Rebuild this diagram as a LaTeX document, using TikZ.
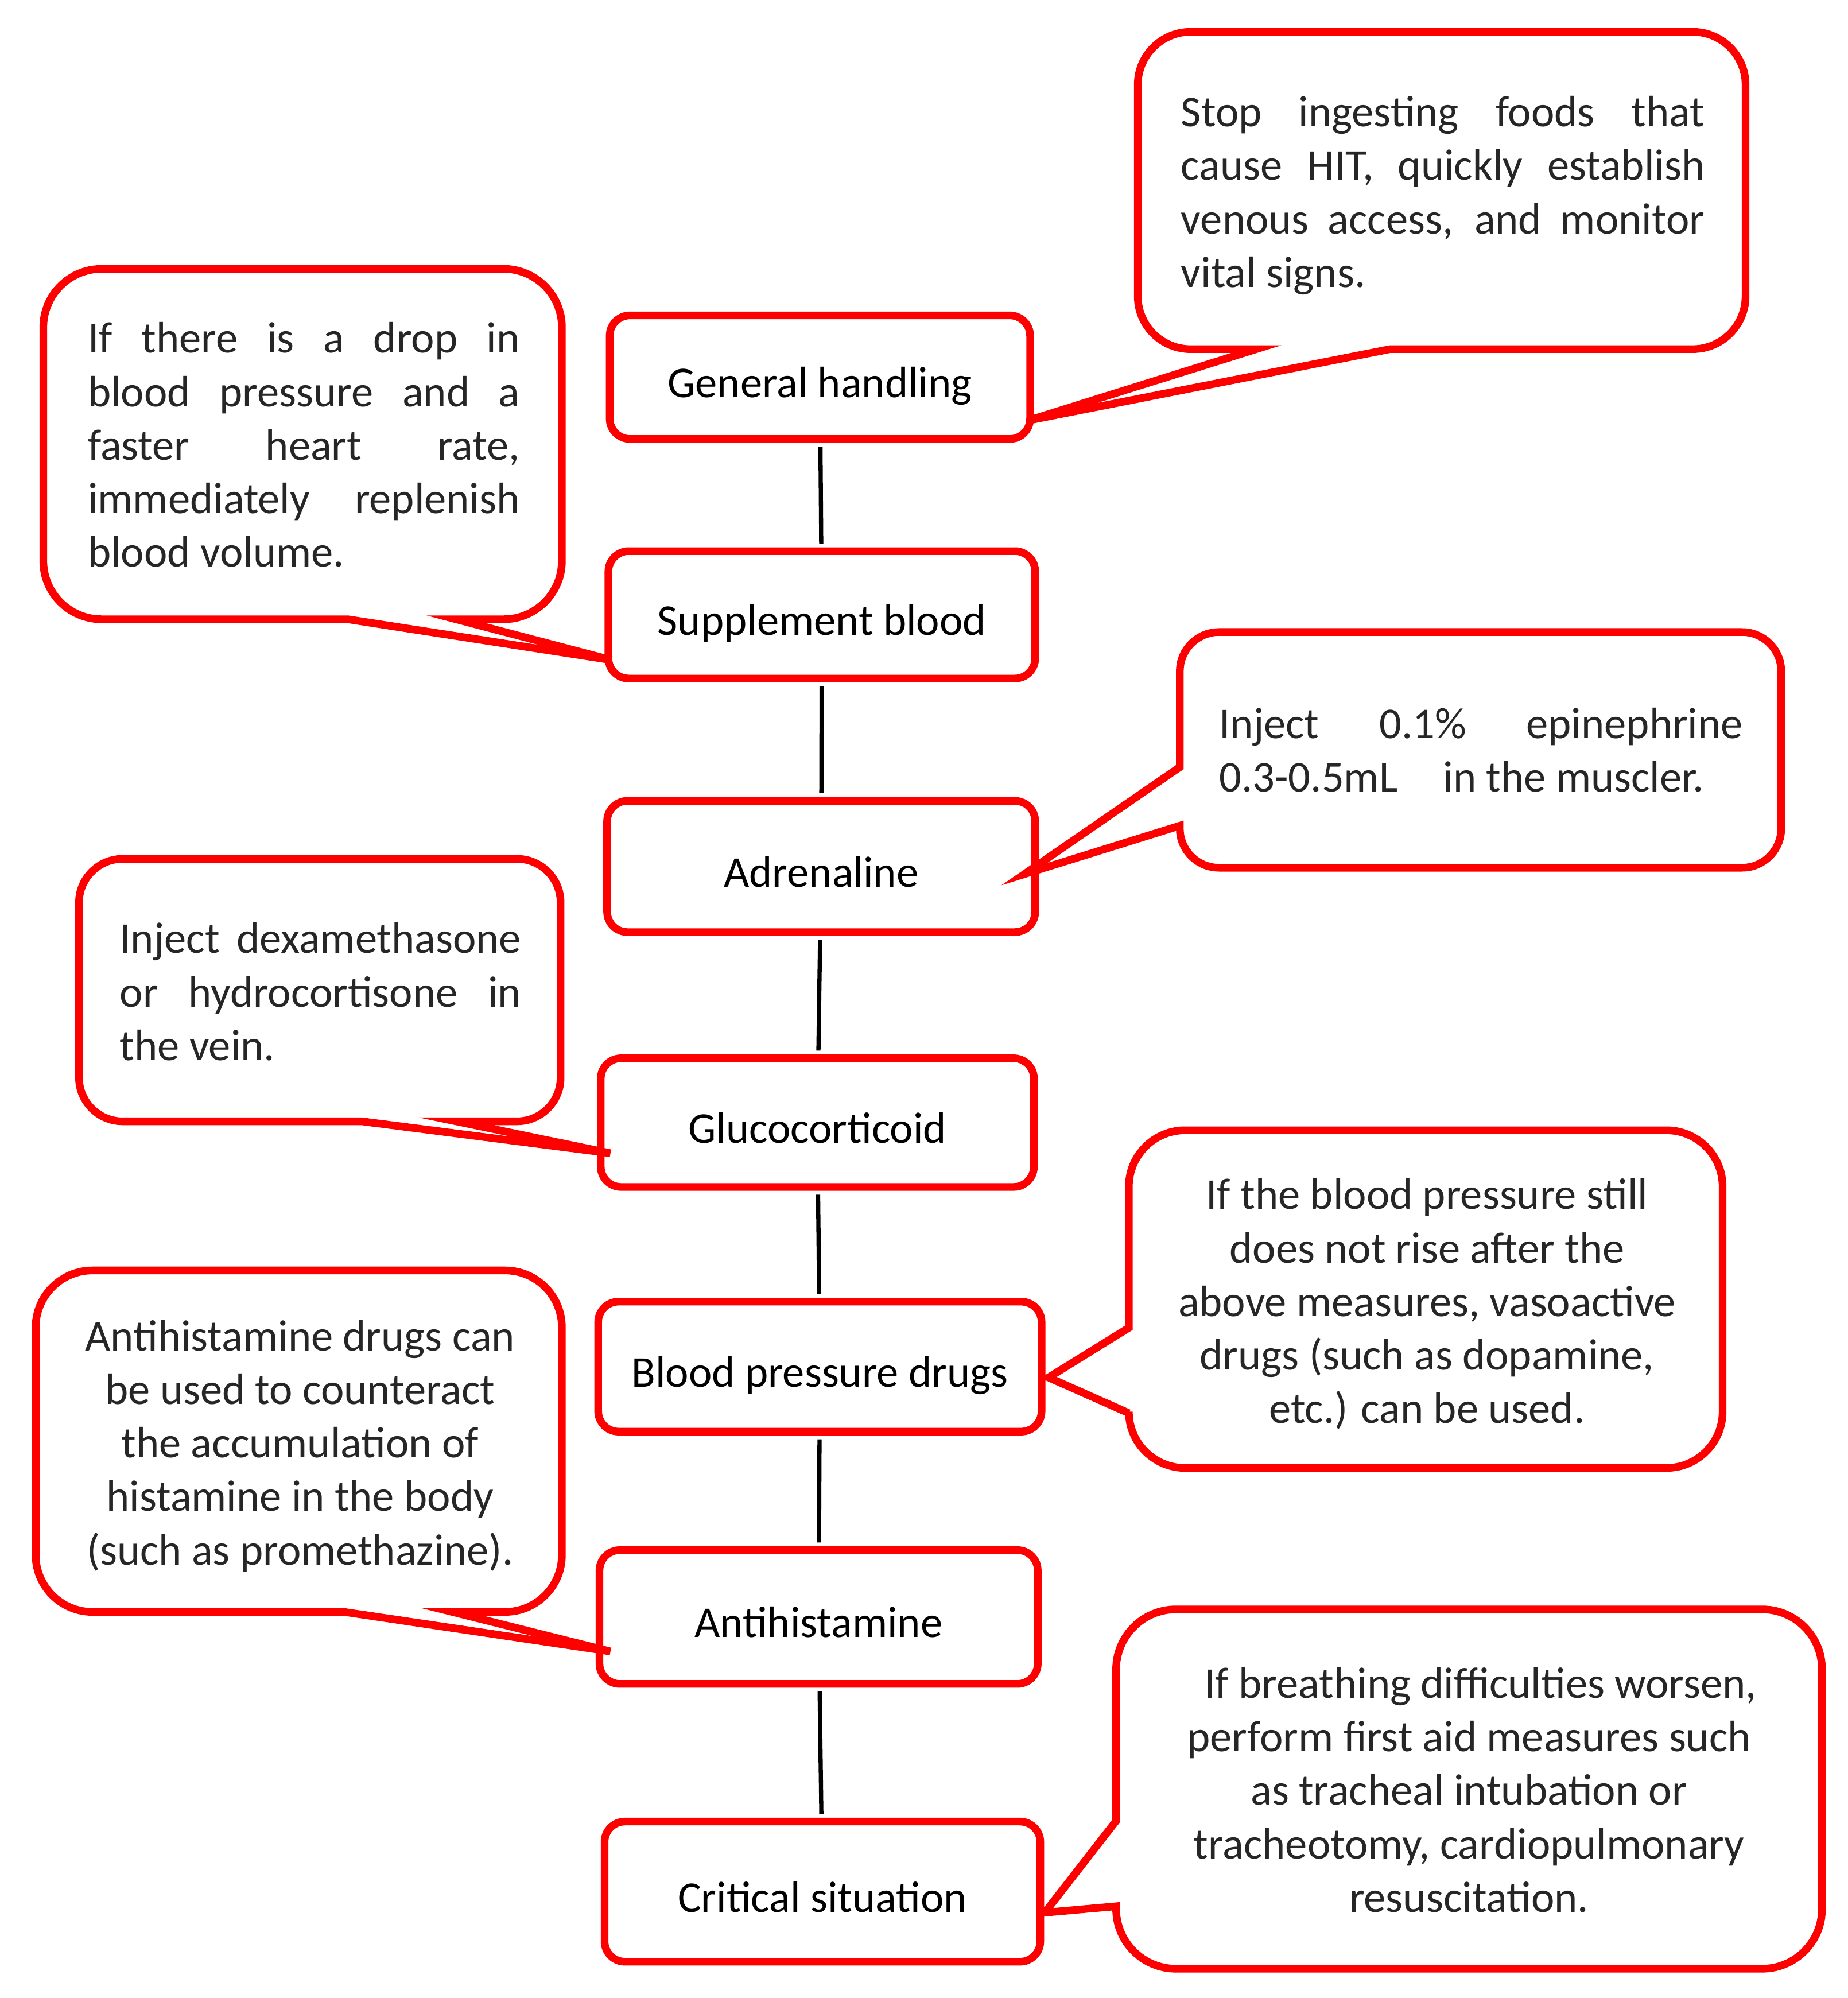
\documentclass[tikz,border=0pt]{standalone}
\usepackage{fontspec}
\setmainfont{Carlito}
\definecolor{txtgray}{RGB}{38,38,38}
\newcommand{\jline}[2]{\makebox[#1pt][s]{\strut #2}}
\newcommand{\lline}[2]{\makebox[#1pt][l]{\strut #2}}
% callout with pointer leaving the bottom edge: L R T B b1 b2 tipx tipy
\newcommand{\cobottom}[8]{%
  \pgfmathsetmacro\crad{min(#2-#1,#4-#3)/6}%
  \draw[callout] ({(#1+#2)/2},#3) [rounded corners=\crad pt] -- (#2,#3) -- (#2,#4)
     [sharp corners] -- (#6,#4) -- (#7,#8) -- (#5,#4)
     [rounded corners=\crad pt] -- (#1,#4) -- (#1,#3) -- cycle;}
% callout with pointer leaving the left edge: L R T B upper lower tipx tipy
\newcommand{\coleft}[8]{%
  \pgfmathsetmacro\crad{min(#2-#1,#4-#3)/6}%
  \draw[callout] ({(#1+#2)/2},#3) [rounded corners=\crad pt] -- (#2,#3) -- (#2,#4) -- (#1,#4)
     [sharp corners] -- (#1,#6) -- (#7,#8) -- (#1,#5)
     [rounded corners=\crad pt] -- (#1,#3) -- cycle;}
\tikzset{
  mainbox/.style={draw=red, line width=6pt, rounded corners=16pt, fill=white,
    font=\fontsize{34.5}{42}\selectfont, text=black, inner sep=0pt,
    text height=32pt, text depth=0pt},
  callout/.style={draw=red, line width=6pt, fill=white},
  ctext/.style={font=\fontsize{34.5}{42}\selectfont, text=txtgray, inner sep=0pt},
  conn/.style={draw=black, line width=3.3pt, shorten <=3pt, shorten >=3pt}
}
\begin{document}
\begin{tikzpicture}[x=1pt,y=-1pt]
\useasboundingbox[fill=white] (0,0) rectangle (1450,1568);

% main chain
\node[mainbox, minimum width=330pt, minimum height=97pt]  (gh)   at (643.5,296)   {General handling};
\node[mainbox, minimum width=335pt, minimum height=100pt] (sb)   at (645,482.5)   {Supplement blood};
\node[mainbox, minimum width=336pt, minimum height=103pt] (adr)  at (644.5,680)   {Adrenaline};
\node[mainbox, minimum width=340pt, minimum height=101pt] (glu)  at (641.5,881)   {Glucocorticoid};
\node[mainbox, minimum width=348pt, minimum height=102pt] (bpd)  at (643.5,1072.5){Blood pressure drugs};
\node[mainbox, minimum width=344pt, minimum height=105pt] (ant)  at (642.5,1269)  {Antihistamine};
\node[mainbox, minimum width=342pt, minimum height=110pt] (crit) at (645.5,1484.5){Critical situation};

\draw[conn] (gh) -- (sb);
\draw[conn] (sb) -- (adr);
\draw[conn] (adr) -- (glu);
\draw[conn] (glu) -- (bpd);
\draw[conn] (bpd) -- (ant);
\draw[conn] (ant) -- (crit);

% callouts
\cobottom{893}{1370}{25}{274}{986}{1091}{807}{330}
\cobottom{34}{441}{211}{486}{273}{358}{480}{518}
\cobottom{62}{440}{674}{880}{284}{358}{479}{905}
\cobottom{28}{441}{997}{1265}{270}{355}{479}{1296}
\coleft{926}{1398}{496}{681}{602}{648}{804}{686}
\coleft{886}{1352}{887}{1152}{1042}{1109}{823}{1081}
\coleft{876}{1430}{1263}{1545}{1429}{1496}{820}{1501}

% callout texts
\node[ctext, align=left] (ta) at (1132.5,154) {%
  \jline{411}{Stop ingesting foods that}\\
  \jline{411}{cause HIT, quickly establish}\\
  \jline{411}{venous access, and monitor}\\
  \lline{411}{vital signs.}};
\node[ctext, align=left] (tb) at (238.5,352.6) {%
  \jline{339}{If there is a drop in}\\
  \jline{339}{blood pressure and a}\\
  \jline{339}{faster heart rate,}\\
  \jline{339}{immediately replenish}\\
  \lline{339}{blood volume.}};
\node[ctext, align=left] (tc) at (1162.5,592) {%
  \jline{411}{Inject 0.1\% epinephrine}\\
  \lline{411}{0.3-0.5mL\hspace{28pt} in the muscler.}};
\node[ctext, align=left] (td) at (251.5,781.7) {%
  \jline{315}{Inject dexamethasone}\\
  \jline{315}{or hydrocortisone in}\\
  \lline{315}{the vein.}};
\node[ctext, align=center] (te) at (1120,1024.6) {%
  \strut If the blood pressure still\\
  \strut does not rise after the\\
  \strut above measures, vasoactive\\
  \strut drugs (such as dopamine,\\
  \strut etc.) can be used.};
\node[ctext, align=center] (tf) at (235.5,1135.6) {%
  \strut Antihistamine drugs can\\
  \strut be used to counteract\\
  \strut the accumulation of\\
  \strut histamine in the body\\
  \strut (such as promethazine).};
\node[ctext, align=center] (tg) at (1153,1408.2) {%
  \strut\hspace*{18pt}If breathing difficulties worsen,\\
  \strut perform first aid measures such\\
  \strut as tracheal intubation or\\
  \strut tracheotomy, cardiopulmonary\\
  \strut resuscitation.};
\end{tikzpicture}
\end{document}
